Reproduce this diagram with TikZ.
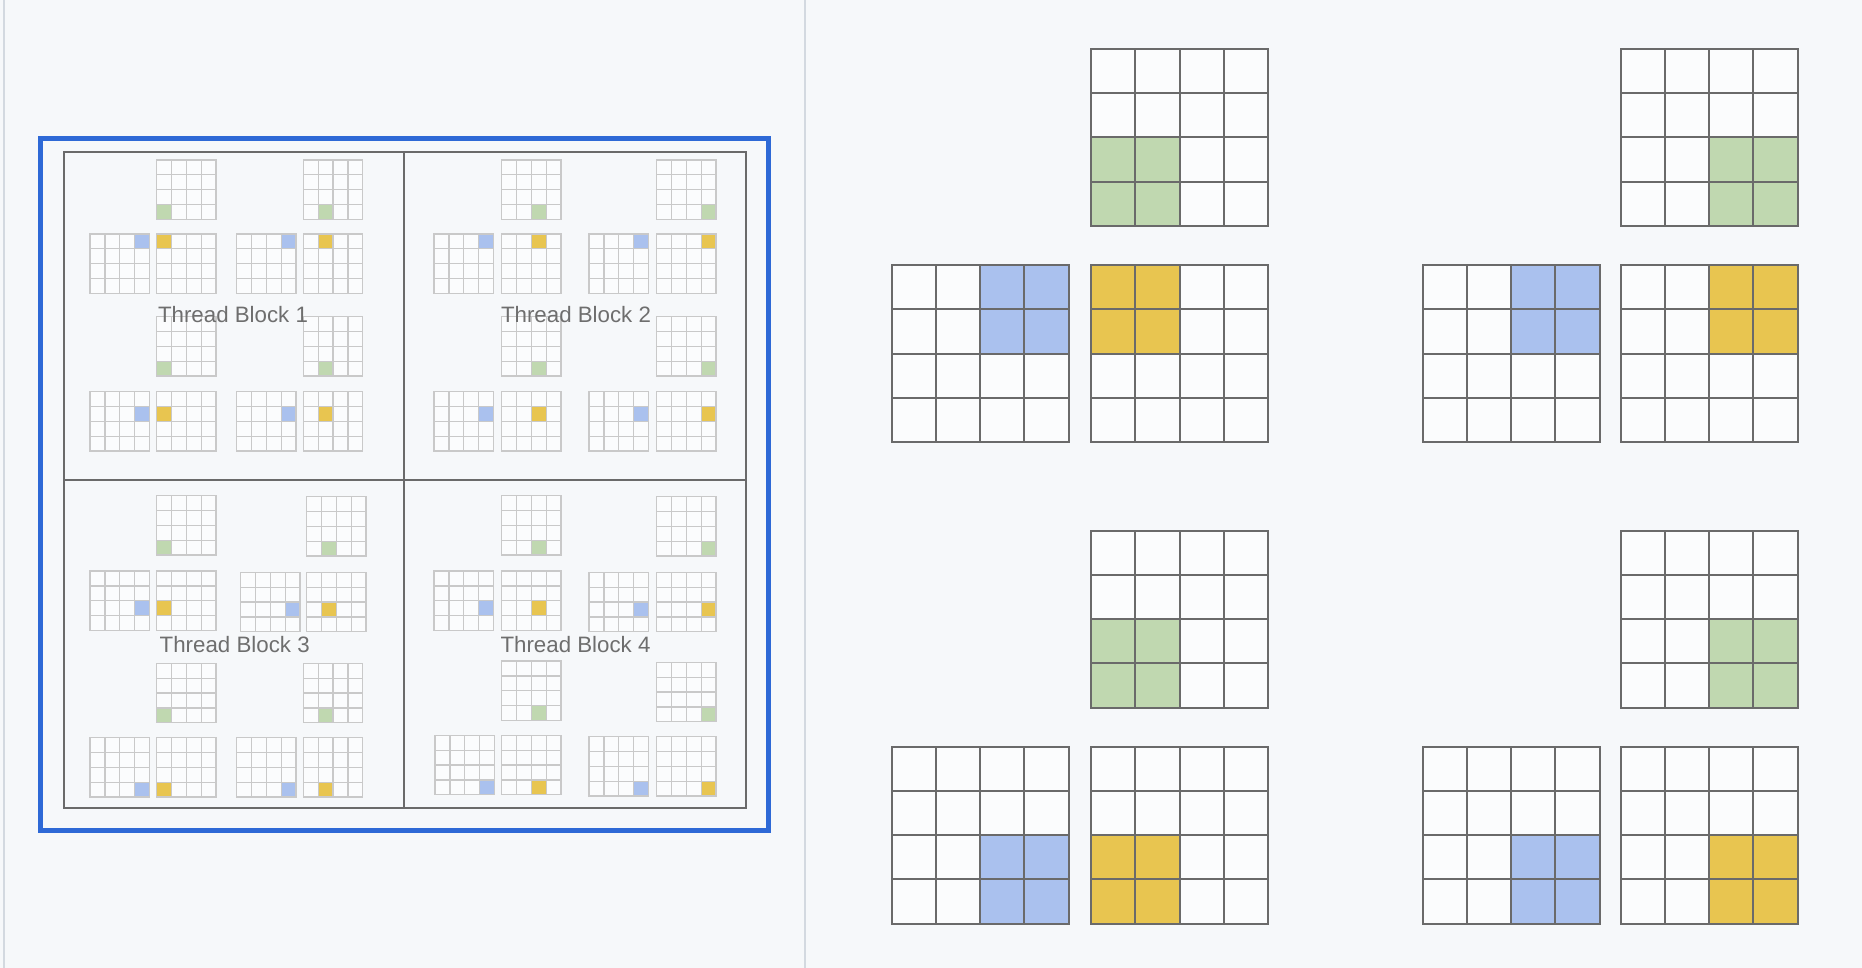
\documentclass[tikz,border=0pt]{standalone}
\usepackage{fontspec}
\setmainfont{Liberation Sans}
\definecolor{pagebg}{HTML}{F6F8FA}
\definecolor{cellbg}{HTML}{FBFCFD}
\definecolor{gfill}{HTML}{C0D8B0}
\definecolor{bfill}{HTML}{AAC1EE}
\definecolor{yfill}{HTML}{E8C550}
\definecolor{frameblue}{HTML}{2E69D6}
\definecolor{divider}{HTML}{D3D9E0}
\definecolor{darkline}{HTML}{6A6A6A}
\definecolor{lightline}{HTML}{C9C9C9}
\definecolor{labelgray}{HTML}{6E6E6E}
\tikzset{
  smallline/.style={draw=lightline, line width=1.3pt, line cap=rect},
  bigline/.style={draw=darkline, line width=2pt, line cap=rect},
  quadline/.style={draw=darkline, line width=1.4pt},
  tblabel/.style={text=labelgray, inner sep=0pt, anchor=base, font=\fontsize{22.3}{26}\selectfont},
}
% #1 x, #2 y, #3 size, #4 line style, #5 fill colour, #6 list of row/col cells
\newcommand\cellgrid[6]{%
  \begin{scope}[shift={(#1,#2)}]
    \fill[cellbg] (0,0) rectangle (#3,#3);
    \foreach \r/\c in {#6}{\fill[#5] ({\c*#3/4},{\r*#3/4}) rectangle ++({#3/4},{#3/4});}
    \foreach \i in {0,...,4}{%
      \draw[#4] ({\i*#3/4},0) -- ({\i*#3/4},#3);
      \draw[#4] (0,{\i*#3/4}) -- (#3,{\i*#3/4});}
  \end{scope}}
\newcommand\smg[4]{\cellgrid{#1}{#2}{59.4}{smallline}{#3}{#4}}
\newcommand\bgg[4]{\cellgrid{#1}{#2}{177}{bigline}{#3}{#4}}
\begin{document}
\begin{tikzpicture}[x=1pt,y=-1pt]
\useasboundingbox (0,0) rectangle (1862,968);
\fill[pagebg] (0,0) rectangle (1862,968);
\draw[divider, line width=2pt] (4,0) -- (4,968);
\draw[divider, line width=2pt] (804.7,0) -- (804.7,968);

% outer frames
\draw[frameblue, line width=4.5pt] (40.5,138.5) rectangle (768.5,830.5);
\draw[quadline] (64,152) rectangle (746,808);
\draw[quadline] (404,152) -- (404,808);
\draw[quadline] (64,480) -- (746,480);

% Thread Block 1
\smg{156.7}{160}{gfill}{3/0}   \smg{90}{234}{bfill}{0/3}    \smg{156.7}{234}{yfill}{0/0}
\smg{303.3}{160}{gfill}{3/1}   \smg{236.7}{234}{bfill}{0/3} \smg{303.3}{234}{yfill}{0/1}
\smg{156.7}{316.7}{gfill}{3/0} \smg{90}{391.7}{bfill}{1/3}  \smg{156.7}{391.7}{yfill}{1/0}
\smg{303.3}{316.7}{gfill}{3/1} \smg{236.7}{391.7}{bfill}{1/3} \smg{303.3}{391.7}{yfill}{1/1}
% Thread Block 2
\smg{501.7}{160}{gfill}{3/2}   \smg{434}{234}{bfill}{0/3}   \smg{501.7}{234}{yfill}{0/2}
\smg{656.7}{160}{gfill}{3/3}   \smg{589}{234}{bfill}{0/3}   \smg{656.7}{234}{yfill}{0/3}
\smg{501.7}{316.7}{gfill}{3/2} \smg{434}{391.7}{bfill}{1/3} \smg{501.7}{391.7}{yfill}{1/2}
\smg{656.7}{316.7}{gfill}{3/3} \smg{589}{391.7}{bfill}{1/3} \smg{656.7}{391.7}{yfill}{1/3}
% Thread Block 3
\smg{156.7}{495.7}{gfill}{3/0} \smg{90}{571}{bfill}{2/3}    \smg{156.7}{571}{yfill}{2/0}
\smg{306.7}{496.7}{gfill}{3/1} \smg{240.7}{572.3}{bfill}{2/3} \smg{306.7}{572.3}{yfill}{2/1}
\smg{156.7}{663.3}{gfill}{3/0} \smg{90}{737.7}{bfill}{3/3}  \smg{156.7}{737.7}{yfill}{3/0}
\smg{303.3}{663.3}{gfill}{3/1} \smg{236.7}{737.7}{bfill}{3/3} \smg{303.3}{737.7}{yfill}{3/1}
% Thread Block 4
\smg{501.7}{495.7}{gfill}{3/2} \smg{434}{571}{bfill}{2/3}   \smg{501.7}{571}{yfill}{2/2}
\smg{656.7}{496.7}{gfill}{3/3} \smg{589}{572.3}{bfill}{2/3} \smg{656.7}{572.3}{yfill}{2/3}
\smg{501.7}{661}{gfill}{3/2}   \smg{435}{735.3}{bfill}{3/3} \smg{501.7}{735.3}{yfill}{3/2}
\smg{656.7}{662.3}{gfill}{3/3} \smg{589}{736.7}{bfill}{3/3} \smg{656.7}{736.7}{yfill}{3/3}

% labels
\node[tblabel] (tb1) at (233,322.7) {Thread Block 1};
\node[tblabel] (tb2) at (576,322.7) {Thread Block 2};
\node[tblabel] (tb3) at (234.7,652.7) {Thread Block 3};
\node[tblabel] (tb4) at (575.5,652.7) {Thread Block 4};

% right panel
\bgg{1091}{49}{gfill}{2/0,2/1,3/0,3/1}
\bgg{891.7}{265}{bfill}{0/2,0/3,1/2,1/3}
\bgg{1091}{265}{yfill}{0/0,0/1,1/0,1/1}

\bgg{1620.7}{49}{gfill}{2/2,2/3,3/2,3/3}
\bgg{1422.7}{265}{bfill}{0/2,0/3,1/2,1/3}
\bgg{1620.7}{265}{yfill}{0/2,0/3,1/2,1/3}

\bgg{1091}{530.7}{gfill}{2/0,2/1,3/0,3/1}
\bgg{891.7}{746.7}{bfill}{2/2,2/3,3/2,3/3}
\bgg{1091}{746.7}{yfill}{2/0,2/1,3/0,3/1}

\bgg{1620.7}{530.7}{gfill}{2/2,2/3,3/2,3/3}
\bgg{1422.7}{746.7}{bfill}{2/2,2/3,3/2,3/3}
\bgg{1620.7}{746.7}{yfill}{2/2,2/3,3/2,3/3}
\end{tikzpicture}
\end{document}
